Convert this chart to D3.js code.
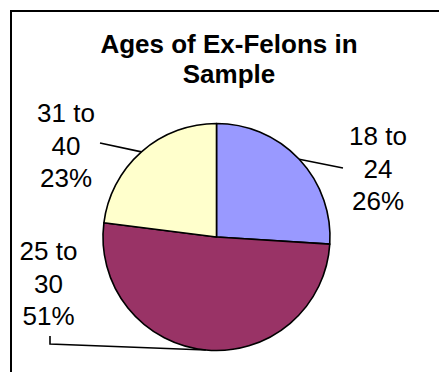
<!DOCTYPE html>
<html>
<head>
<meta charset="utf-8">
<script src="https://cdn.jsdelivr.net/npm/d3@7"></script>
<style>
  html, body { margin: 0; padding: 0; background: #ffffff; }
  svg { display: block; }
</style>
</head>
<body>
<svg id="chart" width="439" height="372"></svg>
<script>
// Age groups of ex-felons in the sample (percent of total)
const categories = ["18 to 24", "25 to 30", "31 to 40"];
const values = [26, 51, 23];
const sliceColors = ["#9999FF", "#993366", "#FFFFCC"];
const titleLines = ["Ages of Ex-Felons in", "Sample"];

const svg = d3.select("#chart");
const font = "'Liberation Sans', Arial, sans-serif";

// Chart area border (runs off the right and bottom edges)
svg.append("rect")
  .attr("x", 11).attr("y", 11)
  .attr("width", 460).attr("height", 400)
  .attr("fill", "#ffffff")
  .attr("stroke", "#000000")
  .attr("stroke-width", 2);

// Title
svg.append("g").selectAll("text")
  .data(titleLines)
  .join("text")
  .attr("x", 229)
  .attr("y", (d, i) => 53 + i * 30)
  .attr("text-anchor", "middle")
  .attr("font-family", font)
  .attr("font-weight", "bold")
  .attr("font-size", 26)
  .attr("fill", "#000")
  .text(d => d);

// Pie
const cx = 216.5, cy = 237, R = 113.5;
const pie = d3.pie().sort(null).value(d => d.value);
const arcs = pie(categories.map((c, i) => ({ name: c, value: values[i], color: sliceColors[i] })));
const arc = d3.arc().innerRadius(0).outerRadius(R);

const g = svg.append("g").attr("transform", `translate(${cx},${cy})`);
g.selectAll("path.slice")
  .data(arcs)
  .join("path")
  .attr("class", "slice")
  .attr("d", arc)
  .attr("fill", d => d.data.color)
  .attr("stroke", "#000")
  .attr("stroke-width", 1.6)
  .attr("stroke-linejoin", "round");

// Label placement for each slice: text centre, first baseline, and leader path end points
const labelLayout = [
  { tx: 378, ty: 145, leader: [[343 - cx, 168 - cy]] },
  { tx: 48.5, ty: 260, leader: [[50 - cx, 344 - cy], [50 - cx, 336 - cy]] },
  { tx: 66, ty: 122, leader: [[100 - cx, 143 - cy]] }
];

const mid = d => (d.startAngle + d.endAngle) / 2;
const edgePoint = d => [Math.sin(mid(d)) * R, -Math.cos(mid(d)) * R];

// Leader lines from the slice edge to the labels
g.selectAll("path.leader")
  .data(arcs)
  .join("path")
  .attr("class", "leader")
  .attr("d", (d, i) => d3.line()([edgePoint(d), ...labelLayout[i].leader]))
  .attr("fill", "none")
  .attr("stroke", "#000")
  .attr("stroke-width", 1.6);

// Category and percentage labels
const labels = svg.append("g").selectAll("g")
  .data(arcs)
  .join("g");

labels.each(function(d, i) {
  const parts = d.data.name.split(" ");
  const lines = [parts[0] + " " + parts[1], parts[2], d.data.value + "%"];
  d3.select(this).selectAll("text")
    .data(lines)
    .join("text")
    .attr("x", labelLayout[i].tx)
    .attr("y", (t, j) => labelLayout[i].ty + j * 32.5)
    .attr("text-anchor", "middle")
    .attr("font-family", font)
    .attr("font-size", 26)
    .attr("fill", "#000")
    .text(t => t);
});
</script>
</body>
</html>
